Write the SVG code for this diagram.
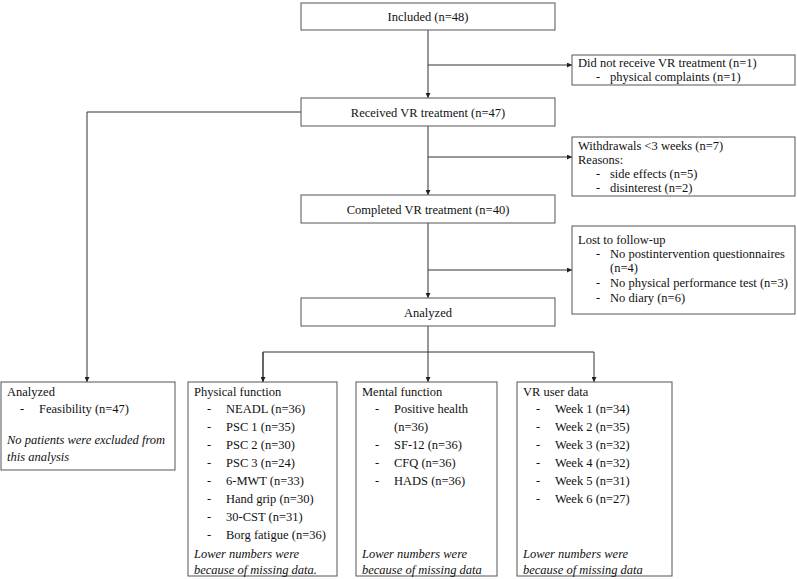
<svg xmlns="http://www.w3.org/2000/svg" width="797" height="579" viewBox="0 0 797 579">
<defs>
<style>
.box{fill:#fff;stroke:#555;stroke-width:1}
.ln{fill:none;stroke:#333;stroke-width:1}
.c{text-anchor:middle}
.i{font-style:italic}
</style>
<marker id="ah" markerUnits="userSpaceOnUse" markerWidth="5" markerHeight="5" refX="5" refY="2.5" orient="auto">
<path d="M0,0 L5,2.5 L0,5 Z" fill="#222"/>
</marker>
</defs>
<rect width="797" height="579" fill="#fff"/>
<g id="connectors">
<path class="ln" d="M428,30 V98" marker-end="url(#ah)"/>
<path class="ln" d="M428,65 H572" marker-end="url(#ah)"/>
<path class="ln" d="M428,126 V195" marker-end="url(#ah)"/>
<path class="ln" d="M428,157 H572" marker-end="url(#ah)"/>
<path class="ln" d="M428,223 V298" marker-end="url(#ah)"/>
<path class="ln" d="M428,270 H572" marker-end="url(#ah)"/>
<path class="ln" d="M301,112 H87 V382" marker-end="url(#ah)"/>
<path class="ln" d="M428,326 V352"/>
<path class="ln" d="M263,382 V352 H594 V382" marker-end="url(#ah)"/>
<path class="ln" d="M428,352 V382" marker-end="url(#ah)"/>
<path class="ln" d="M263,352 V382" marker-end="url(#ah)"/>
</g>
<g font-family="'Liberation Serif', 'Times New Roman', serif" font-size="12.5" fill="#111">
<g id="included">
<rect class="box" x="301" y="3" width="254" height="27"/>
<text class="c" x="428" y="21">Included (n=48)</text>
</g>
<g id="not-received">
<rect class="box" x="572" y="55" width="223" height="30"/>
<text x="578" y="67">Did not receive VR treatment (n=1)</text>
<text x="596" y="81">-</text><text x="610" y="81">physical complaints (n=1)</text>
</g>
<g id="received">
<rect class="box" x="301" y="98" width="254" height="28"/>
<text class="c" x="428" y="117">Received VR treatment (n=47)</text>
</g>
<g id="withdrawals">
<rect class="box" x="572" y="137" width="223" height="59"/>
<text x="578" y="150">Withdrawals &lt;3 weeks (n=7)</text>
<text x="578" y="164">Reasons:</text>
<text x="596" y="178">-</text><text x="610" y="178">side effects (n=5)</text>
<text x="596" y="192">-</text><text x="610" y="192">disinterest (n=2)</text>
</g>
<g id="completed">
<rect class="box" x="301" y="195" width="254" height="28"/>
<text class="c" x="428" y="214">Completed VR treatment (n=40)</text>
</g>
<g id="lost">
<rect class="box" x="572" y="226" width="223" height="88"/>
<text x="578" y="244">Lost to follow-up</text>
<text x="596" y="258">-</text><text x="610" y="258">No postintervention questionnaires</text>
<text x="610" y="272">(n=4)</text>
<text x="596" y="287">-</text><text x="610" y="287">No physical performance test (n=3)</text>
<text x="596" y="302">-</text><text x="610" y="302">No diary (n=6)</text>
</g>
<g id="analyzed">
<rect class="box" x="301" y="298" width="254" height="28"/>
<text class="c" x="428" y="317">Analyzed</text>
</g>
<g id="analyzed-feasibility">
<rect class="box" x="1" y="382" width="174" height="88"/>
<text x="7" y="396">Analyzed</text>
<text x="20" y="413">-</text><text x="39" y="413">Feasibility (n=47)</text>
<text class="i" x="7" y="444">No patients were excluded from</text>
<text class="i" x="7" y="461">this analysis</text>
</g>
<g id="physical">
<rect class="box" x="188" y="382" width="149" height="194"/>
<text x="194" y="396">Physical function</text>
<text x="207" y="413">-</text><text x="226" y="413">NEADL (n=36)</text>
<text x="207" y="431">-</text><text x="226" y="431">PSC 1 (n=35)</text>
<text x="207" y="449">-</text><text x="226" y="449">PSC 2 (n=30)</text>
<text x="207" y="467">-</text><text x="226" y="467">PSC 3 (n=24)</text>
<text x="207" y="485">-</text><text x="226" y="485">6-MWT (n=33)</text>
<text x="207" y="503">-</text><text x="226" y="503">Hand grip (n=30)</text>
<text x="207" y="521">-</text><text x="226" y="521">30-CST (n=31)</text>
<text x="207" y="539">-</text><text x="226" y="539">Borg fatigue (n=36)</text>
<text class="i" x="194" y="558">Lower numbers were</text>
<text class="i" x="194" y="574">because of missing data.</text>
</g>
<g id="mental">
<rect class="box" x="356" y="382" width="141" height="194"/>
<text x="362" y="396">Mental function</text>
<text x="375" y="413">-</text><text x="394" y="413">Positive health</text>
<text x="394" y="431">(n=36)</text>
<text x="375" y="449">-</text><text x="394" y="449">SF-12 (n=36)</text>
<text x="375" y="467">-</text><text x="394" y="467">CFQ (n=36)</text>
<text x="375" y="485">-</text><text x="394" y="485">HADS (n=36)</text>
<text class="i" x="362" y="558">Lower numbers were</text>
<text class="i" x="362" y="574">because of missing data</text>
</g>
<g id="vr-user-data">
<rect class="box" x="517" y="382" width="155" height="194"/>
<text x="523" y="396">VR user data</text>
<text x="536" y="413">-</text><text x="555" y="413">Week 1 (n=34)</text>
<text x="536" y="431">-</text><text x="555" y="431">Week 2 (n=35)</text>
<text x="536" y="449">-</text><text x="555" y="449">Week 3 (n=32)</text>
<text x="536" y="467">-</text><text x="555" y="467">Week 4 (n=32)</text>
<text x="536" y="485">-</text><text x="555" y="485">Week 5 (n=31)</text>
<text x="536" y="503">-</text><text x="555" y="503">Week 6 (n=27)</text>
<text class="i" x="523" y="558">Lower numbers were</text>
<text class="i" x="523" y="574">because of missing data</text>
</g>
</g>
</svg>
